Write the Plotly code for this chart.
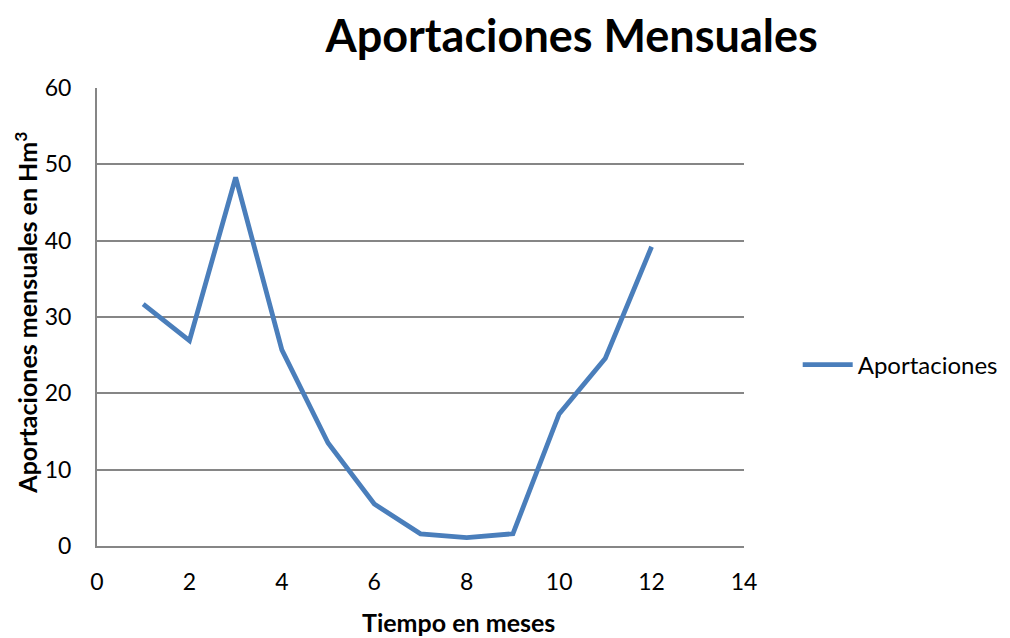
import plotly.graph_objects as go

meses = [1, 2, 3, 4, 5, 6, 7, 8, 9, 10, 11, 12]
aportaciones = [31.7, 26.9, 48.3, 25.7, 13.5, 5.5, 1.6, 1.1, 1.6, 17.3, 24.6, 39.2]

FONT = "Lato, 'Open Sans', sans-serif"

fig = go.Figure()
fig.add_trace(go.Scatter(
    x=meses, y=aportaciones, mode="lines", name="Aportaciones",
    line=dict(color="#4A7EBB", width=4.8),
))

fig.update_layout(
    width=1010, height=638,
    paper_bgcolor="white", plot_bgcolor="white",
    margin=dict(l=89, r=274, t=80, b=100),
    font=dict(family=FONT, color="black", size=23),
    title=dict(text="<b>Aportaciones Mensuales</b>", x=0.558, xanchor="center",
               y=0.956, yanchor="middle", font=dict(size=45, family=FONT)),
    showlegend=True,
    legend=dict(x=1.083, y=0.395, xanchor="left", yanchor="middle",
                itemwidth=50, font=dict(size=24, family=FONT)),
    annotations=[
        dict(text="<b>Tiempo en meses</b>", xref="paper", yref="paper",
             x=0.558, y=-0.166, xanchor="center", yanchor="middle",
             showarrow=False, font=dict(size=25, family=FONT)),
        dict(text="<b>Aportaciones mensuales en Hm<sup>3</sup></b>", xref="paper", yref="paper",
             x=-0.1085, y=0.509, xanchor="center", yanchor="middle", textangle=-90,
             showarrow=False, font=dict(size=25, family=FONT)),
    ],
)
fig.update_xaxes(
    range=[0, 14], tickvals=[0, 2, 4, 6, 8, 10, 12, 14],
    showgrid=False, zeroline=False, showline=True, linecolor="#868686", linewidth=2,
    ticks="", ticklabelstandoff=14, automargin=False,
)
fig.update_yaxes(
    range=[0, 60], tickvals=[0, 10, 20, 30, 40, 50, 60],
    showgrid=True, gridcolor="#868686", gridwidth=2, zeroline=False,
    showline=True, linecolor="#868686", linewidth=2,
    ticks="", ticklabelstandoff=19, automargin=False,
)

fig.write_html("out.html")
